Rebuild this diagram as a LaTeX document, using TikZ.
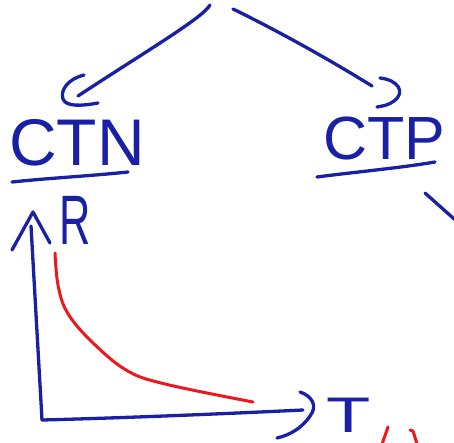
\documentclass[tikz,border=0pt]{standalone}
\usepackage{fontspec}
\setmainfont{Liberation Sans}
\definecolor{inkblue}{RGB}{26,32,165}
\definecolor{inkred}{RGB}{236,24,30}
\begin{document}
\begin{tikzpicture}[x=1pt,y=-1pt,line cap=round,line join=round,
  pen/.style={draw=inkblue,line width=3.3pt},
  redpen/.style={draw=inkred,line width=3pt},
  label/.style={text=inkblue,inner sep=0pt,anchor=base}]
\useasboundingbox[fill=white] (0,0) rectangle (454,443);
% connectors from the top
\coordinate (topL) at (210,5);
\coordinate (topR) at (233,9);
\node[label,font=\fontsize{66}{66}\selectfont] (ctn) at (77,166) {CTN};
\node[label,font=\fontsize{61}{61}\selectfont] (ctp) at (384,160) {CTP};
\coordinate (tipL) at (78,96);
\coordinate (tipR) at (372,86);
\draw[pen] (topL) .. controls (203,18) and (140,55) .. (tipL);
\draw[pen] (84,75) .. controls (68,79) and (60,90) .. (63,99)
  .. controls (66,107) and (82,106) .. (98,103);
\draw[pen] (topR) .. controls (280,32) and (330,60) .. (tipR);
\draw[pen] (380,78) .. controls (398,80) and (406,92) .. (394,101)
  .. controls (389,105) and (383,106) .. (377,107);
% underlines
\draw[pen] (12,182) .. controls (50,178) and (90,176) .. (128,172);
\draw[pen] (317,177) .. controls (355,172) and (400,168) .. (435,162);
% partial stroke at right edge
\draw[pen] (425,193) -- (462,226);
% axes
\coordinate (origin) at (42,420);
\coordinate (ytop) at (31,226);
\coordinate (xend) at (303,410);
\draw[pen] (origin) -- (ytop);
\draw[pen] (origin) .. controls (120,418) and (220,414) .. (xend);
\draw[pen] (12,250) -- (33,212) -- (50,243);
\draw[pen] (300,392) .. controls (312,396) and (318,406) .. (310,416)
  .. controls (302,428) and (290,435) .. (277,438);
\node[label,font=\fontsize{70}{70}\selectfont] (R) at (75,244) {\scalebox{0.62}[1]{R}};
\node[label,font=\fontsize{50}{50}\selectfont] (T) at (349,432) {\scalebox{1.45}[1]{T}};
% red curve
\draw[redpen] plot[smooth,tension=0.6] coordinates {(55,253) (58,285) (67,312) (90,340) (126,370) (165,384) (253,402)};
% red partial strokes
\draw[redpen] (388,427) -- (381,447);
\draw[redpen] (410,430) -- (413,431) -- (418,447);
\end{tikzpicture}
\end{document}
